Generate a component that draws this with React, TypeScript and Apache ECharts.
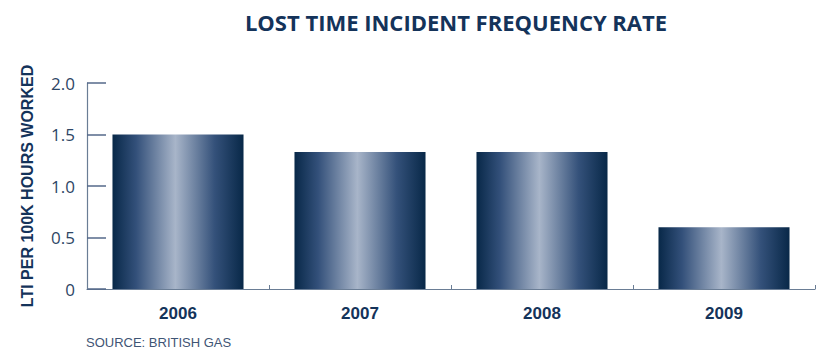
import React, { useEffect, useRef } from "react";
import * as echarts from "echarts";

const categories = ["2006", "2007", "2008", "2009"];
const values = [1.5, 1.33, 1.33, 0.6];
const yTicks = [0, 0.5, 1.0, 1.5, 2.0];
const titleText = "LOST TIME INCIDENT FREQUENCY RATE";
const yAxisName = "LTI PER 100K HOURS WORKED";
const sourceText = "SOURCE: BRITISH GAS";

export default function App() {
  const ref = useRef<HTMLDivElement>(null);
  useEffect(() => {
    if (!ref.current) return;
    const chart = echarts.init(ref.current, undefined, { renderer: "svg" });
    const navy = "#14335a";
    const gradient = new echarts.graphic.LinearGradient(0, 0, 1, 0, [
      { offset: 0, color: "#082848" },
      { offset: 0.18, color: "#33507a" },
      { offset: 0.48, color: "#a8b5c9" },
      { offset: 0.78, color: "#34517a" },
      { offset: 1, color: "#082848" },
    ]);
    chart.setOption({
      animation: false,
      backgroundColor: "#ffffff",
      title: {
        text: titleText,
        left: 451,
        textAlign: "center",
        top: 6,
        textStyle: {
          fontFamily: "Open Sans",
          fontWeight: "bold",
          fontSize: 22,
          color: navy,
        },
      },
      graphic: [
        {
          type: "text",
          left: 86,
          top: 336,
          style: {
            text: sourceText,
            fontFamily: "Liberation Sans",
            fontSize: 13,
            fill: "#3f5575",
          },
        },
      ],
      grid: { left: 87, right: 4, top: 83, bottom: 62 },
      xAxis: {
        type: "category",
        data: categories,
        axisLine: { lineStyle: { color: "#6a7d95", width: 1.2 } },
        axisTick: { show: true, inside: true, length: 4, lineStyle: { color: "#6a7d95" } },
        axisLabel: {
          margin: 16,
          fontFamily: "Liberation Sans",
          fontWeight: "bold",
          fontSize: 17,
          color: navy,
        },
      },
      yAxis: {
        type: "value",
        min: 0,
        max: 2,
        interval: 0.5,
        name: yAxisName,
        nameLocation: "middle",
        nameGap: 52,
        nameRotate: 90,
        nameTextStyle: {
          fontFamily: "Liberation Sans",
          fontWeight: "bold",
          fontSize: 16,
          color: navy,
        },
        splitLine: { show: false },
        axisLine: { show: true, lineStyle: { color: "#6a7d95", width: 1.2 } },
        axisTick: { show: true, inside: true, length: 19, lineStyle: { color: "#55698a", width: 1.5 } },
        axisLabel: {
          margin: 12,
          fontFamily: "Open Sans",
          fontSize: 17,
          color: "#2e4665",
          formatter: (v: number) => (yTicks.includes(v) ? (v === 0 ? "0" : v.toFixed(1)) : ""),
        },
      },
      series: [
        {
          type: "bar",
          data: values,
          barWidth: "72%",
          itemStyle: { color: gradient },
        },
      ],
    });
    return () => chart.dispose();
  }, []);
  return <div ref={ref} style={{ width: 819, height: 351, position: "absolute", left: 0, top: 0 }} />;
}
